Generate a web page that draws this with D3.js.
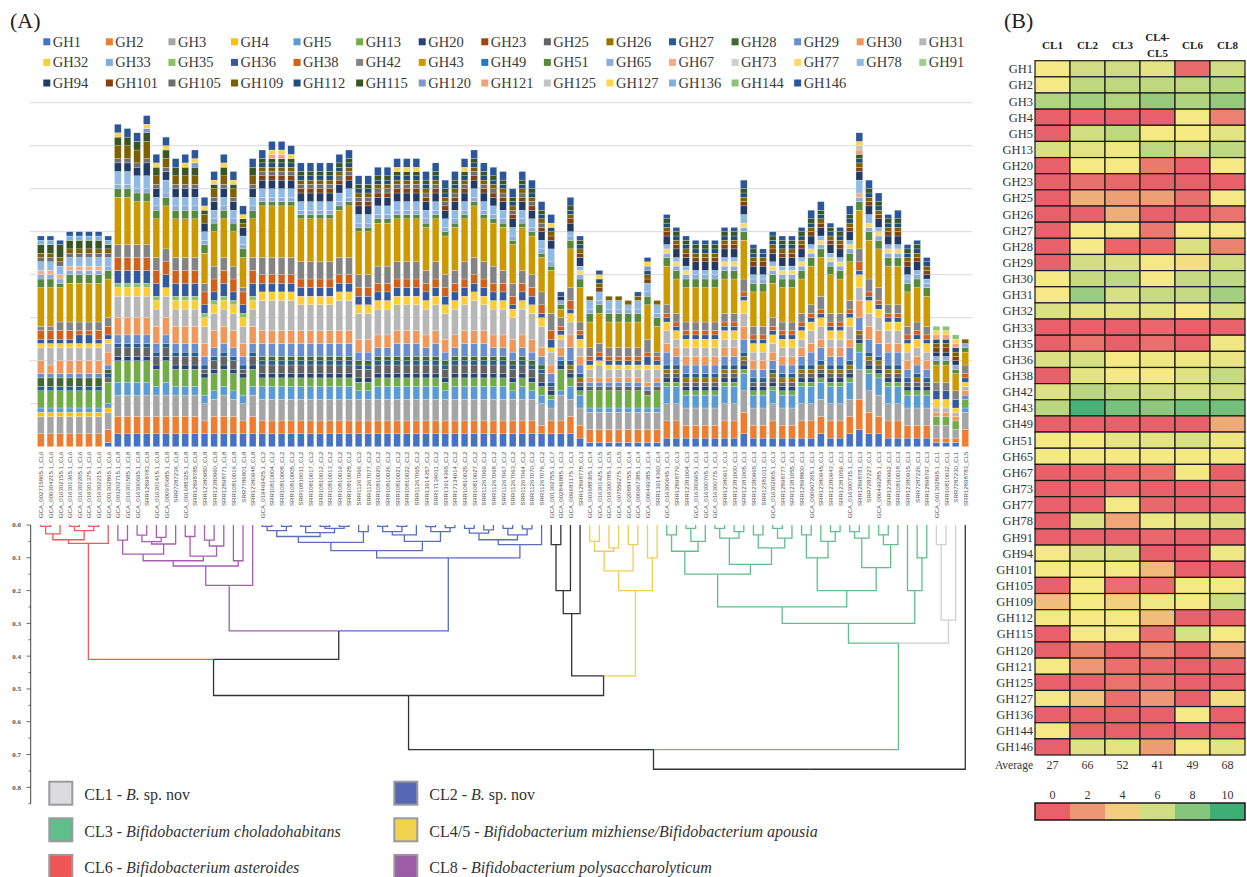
<!DOCTYPE html>
<html>
<head>
<meta charset="utf-8">
<script src="https://cdn.jsdelivr.net/npm/d3@7"></script>
<style>
  body { margin: 0; background: #fff; }
  svg { display: block; }
</style>
</head>
<body>
<svg id="fig" width="1247" height="877"></svg>
<script>
// ---------- data ----------
const families = ["GH1","GH2","GH3","GH4","GH5","GH13","GH20","GH23","GH25","GH26","GH27","GH28","GH29","GH30","GH31",
  "GH32","GH33","GH35","GH36","GH38","GH42","GH43","GH49","GH51","GH65","GH67","GH73","GH77","GH78","GH91",
  "GH94","GH101","GH105","GH109","GH112","GH115","GH120","GH121","GH125","GH127","GH136","GH144","GH146"];

const familyColors = ["#4472c4","#ed7d31","#a5a5a5","#ffc000","#5b9bd5","#70ad47","#264478","#9e480e","#636363","#997300","#255e91","#43682b","#698ed0","#f1975a","#b7b7b7",
  "#ffcd33","#7cafdd","#8cc168","#335aa1","#d0601a","#848484","#cc9a00","#2479c2","#548a3a","#8faadc","#f2ad84","#cfcfcf","#fbd96b","#8fbbe3","#9fcd8a",
  "#223a66","#84400f","#6f6f6f","#7f6000","#1f4e79","#375623","#7d97d3","#eea37a","#c4c4c4","#ffd34f","#7fb1de","#8cc27a","#2b579a"];

const genomes = ["GCA_002715865.1_CL6","GCA_000304215.1_CL6","GCA_016302155.1_CL6","GCA_016301365.1_CL6","GCA_016302205.1_CL6","GCA_016301375.1_CL6","GCA_016302215.1_CL6","GCA_001302865.1_CL6",
  "GCA_003202715.1_CL8","GCA_016301585.1_CL8","GCA_016300695.1_CL8","SRR12898783_CL8","GCA_016301415.1_CL8","GCA_000970685.1_CL8","SRR7287236_CL8","GCA_001688325.1_CL8","SRR12898785_CL8","SRR12380950_CL8","SRR12380960_CL8","SRR12898771_CL8","SRR10810016_CL8","SRR7786801_CL8","SRR12380948_CL8",
  "GCA_019469425.1_CL2","SRR10810004_CL2","SRR10810008_CL2","SRR10810005_CL2","SRR10810011_CL2","SRR10810017_CL2","SRR10810012_CL2","SRR10810013_CL2","SRR10810019_CL2","SRR10810028_CL2","SRR11267066_CL2","SRR11267077_CL2","SRR10810020_CL2","SRR10810026_CL2","SRR10810021_CL2","SRR10810022_CL2","SRR11267065_CL2","SRR13914357_CL2","SRR17134011_CL2","SRR13914365_CL2","SRR17134014_CL2","SRR10810025_CL2","SRR10810027_CL2","SRR11267069_CL2","SRR11267068_CL2","SRR11267067_CL2","SRR11267063_CL2","SRR11267064_CL2","SRR11267070_CL2","SRR11267076_CL2",
  "GCA_001302755.1_CL7","GCA_002846885.1_CL3","GCA_009683175.1_CL3","SRR12898778_CL3",
  "GCA_003688305.1_CL4","GCA_016301425.1_CL5","GCA_016300785.1_CL5","GCA_007559275.1_CL5","GCA_020884755.1_CL4","GCA_000967385.1_CL4","GCA_000499385.1_CL4","SRR13914360_CL4",
  "GCA_016300645.1_CL3","SRR12898779_CL3","SRR12381004_CL3","GCA_016300665.1_CL3","GCA_016300765.1_CL3","GCA_016300775.1_CL3","SRR12380917_CL3","SRR12381000_CL3","SRR12381005_CL3","SRR12380965_CL3","SRR12381011_CL3","GCA_016302005.1_CL3","SRR12898777_CL3","SRR12381055_CL3","SRR12898800_CL3","GCA_000967265.1_CL3","SRR12380945_CL3","SRR12380943_CL3","SRR12381056_CL3","GCA_016300735.1_CL3","SRR12898781_CL3","SRR7287227_CL3","GCA_000499285.1_CL3","SRR12380962_CL3","SRR10810018_CL3","SRR12380915_CL3","SRR7287226_CL3","SRR12898797_CL3",
  "GCA_001302895.1_CL1","SRR10810032_CL1","SRR7287230_CL1","SRR12898783_CL5"];

// gene counts per genome, columns in the order of `families`
const cl6Counts = [
  [0,3,4,1,1,4, 0,0,0,0,1,2, 1,3,3,1,0,0, 1,2,1,9,0,2, 1,1,0,0,2,0, 0,0,1,1,0,2, 0,0,0,0,1,0, 1],
  [0,3,4,1,1,4, 0,0,0,0,1,2, 1,2,4,1,0,0, 1,2,1,9,0,2, 1,1,0,0,2,0, 0,0,1,1,0,2, 0,0,0,0,1,0, 1],
  [0,3,4,1,1,4, 0,0,0,0,1,2, 1,3,3,1,0,0, 1,2,2,8,0,1, 1,1,0,0,2,0, 0,0,1,1,0,3, 0,0,0,0,0,0, 1],
  [0,3,4,1,1,4, 0,0,0,0,1,2, 1,3,3,1,0,0, 1,2,2,9,0,2, 1,1,0,0,2,0, 0,0,1,1,0,2, 0,0,0,0,1,0, 1],
  [0,3,4,1,1,4, 0,0,0,0,1,2, 1,3,3,1,0,0, 2,1,2,9,0,2, 1,1,0,0,2,0, 0,0,1,1,0,2, 0,0,0,0,1,0, 1],
  [0,3,4,1,1,4, 0,0,0,0,1,2, 1,3,3,1,0,0, 2,1,2,9,0,2, 1,1,0,0,2,0, 0,0,1,1,0,2, 0,0,0,0,1,0, 1],
  [0,3,4,1,1,4, 0,0,0,0,1,2, 1,3,3,1,0,0, 1,2,2,9,0,2, 1,1,0,0,2,0, 0,0,1,1,0,2, 0,0,0,0,1,0, 1],
  [1,3,4,1,1,5, 0,0,1,0,1,1, 1,3,2,1,0,0, 1,2,2,9,0,2, 1,0,0,0,2,0, 0,0,1,1,0,1, 0,0,0,0,1,0, 1]
];
const cl8Counts = [
  [3,4,5,0,3,5, 1,0,2,0,1,0, 2,4,5,2,0,1, 3,3,3,11,0,2, 1,0,0,0,3,0, 2,0,1,3,0,2, 0,0,0,1,0,0, 2],
  [3,4,5,0,3,5, 1,0,2,0,1,0, 2,4,5,2,0,1, 3,3,3,11,0,2, 1,0,0,0,3,0, 2,0,1,3,0,2, 0,0,0,0,0,0, 2],
  [3,4,5,0,3,5, 1,0,2,0,1,0, 2,4,5,2,0,1, 3,3,3,10,0,2, 1,0,0,0,3,0, 2,0,1,3,0,2, 0,0,0,0,0,0, 2],
  [3,4,5,0,3,5, 1,0,2,0,1,0, 2,4,5,2,0,1, 3,3,3,10,0,2, 1,0,0,0,3,0, 3,0,1,4,0,2, 1,0,0,1,0,0, 2],
  [3,4,5,0,2,4, 1,0,2,0,1,0, 2,4,4,2,0,1, 3,3,3,9,0,2, 1,0,0,0,2,0, 2,0,1,2,0,2, 0,0,0,1,0,0, 2],
  [3,4,5,0,3,5, 1,0,2,0,1,0, 2,4,5,2,0,0, 3,3,3,10,0,2, 1,0,0,0,3,0, 2,0,1,2,0,2, 0,0,0,1,0,0, 2],
  [3,4,5,0,2,4, 1,0,2,0,1,0, 2,4,4,2,0,1, 3,3,3,9,0,2, 1,0,0,0,2,0, 2,0,1,2,0,2, 0,0,0,0,0,0, 2],
  [3,4,5,0,2,4, 1,0,2,0,1,0, 2,4,4,2,0,1, 3,3,3,9,0,2, 1,0,0,0,2,0, 2,0,1,2,0,2, 0,0,0,1,0,0, 2],
  [3,4,5,0,2,4, 1,0,2,0,1,0, 2,4,4,2,0,1, 3,3,3,9,0,2, 1,0,0,0,2,0, 2,0,1,2,0,2, 1,0,0,1,0,0, 2],
  [3,3,4,0,2,4, 1,0,1,0,1,0, 2,3,4,2,0,1, 2,3,2,7,0,2, 1,0,0,0,2,0, 2,0,0,2,0,1, 0,0,0,1,0,0, 2],
  [3,4,4,0,2,4, 1,0,2,0,1,0, 2,4,4,2,0,1, 2,3,3,8,0,2, 1,0,0,0,2,0, 2,0,1,2,0,1, 0,0,0,1,0,0, 2],
  [3,4,5,0,2,4, 1,0,2,0,1,0, 2,4,4,2,0,1, 3,3,3,9,0,2, 1,0,0,0,2,0, 2,0,1,2,0,2, 0,0,0,1,0,0, 2],
  [3,4,4,0,2,4, 1,0,2,0,1,0, 2,4,4,2,0,1, 2,3,3,8,0,2, 1,0,0,0,2,0, 2,0,1,2,0,1, 0,0,0,1,0,0, 2],
  [3,3,4,0,2,4, 1,0,1,0,1,0, 2,3,4,2,0,1, 2,3,1,7,0,2, 1,0,0,0,2,0, 2,0,0,1,0,1, 0,0,0,1,0,0, 2],
  [3,4,5,0,2,4, 1,0,2,0,1,0, 2,4,4,2,0,1, 3,3,3,9,0,2, 1,0,0,0,2,0, 2,0,1,2,0,2, 0,0,0,0,0,0, 2]
];
const cl2Counts = [
  [3,3,5,0,3,2, 1,0,2,0,1,1, 3,3,7,2,0,0, 2,2,4,12,0,1, 1,0,0,0,2,0, 2,1,1,1,1,1, 0,0,0,0,0,0, 2],
  [3,3,5,0,3,2, 1,0,2,0,1,1, 3,3,7,2,0,0, 2,2,4,12,0,1, 1,0,0,0,2,0, 2,1,1,1,1,1, 0,1,0,1,0,0, 2],
  [3,3,5,0,3,2, 1,0,2,0,1,1, 3,3,7,2,0,0, 2,2,4,12,0,1, 1,0,0,0,2,0, 2,1,1,1,1,1, 0,1,0,1,0,0, 2],
  [3,3,5,0,3,2, 1,0,2,0,1,1, 3,3,7,2,0,0, 2,2,4,12,0,1, 1,0,0,0,2,0, 2,1,1,1,1,1, 0,0,0,1,0,0, 2],
  [3,3,5,0,3,2, 1,0,2,0,1,1, 3,3,6,2,0,0, 2,2,4,10,0,1, 1,0,0,0,2,0, 2,1,1,1,1,1, 0,0,0,0,0,0, 2],
  [3,3,5,0,3,2, 1,0,2,0,1,1, 3,3,6,2,0,0, 2,2,4,10,0,1, 1,0,0,0,2,0, 2,1,1,1,1,1, 0,0,0,0,0,0, 2],
  [3,3,5,0,3,2, 1,0,2,0,1,1, 3,3,6,2,0,0, 2,2,4,10,0,1, 1,0,0,0,2,0, 2,1,1,1,1,1, 0,0,0,0,0,0, 2],
  [3,3,5,0,3,2, 1,0,2,0,1,1, 3,3,6,2,0,0, 2,2,4,10,0,1, 1,0,0,0,2,0, 2,1,1,1,1,1, 0,0,0,0,0,0, 2],
  [3,3,5,0,3,2, 1,0,2,0,1,1, 3,3,7,2,0,0, 2,2,4,11,0,1, 1,0,0,0,2,0, 2,1,1,1,1,1, 0,0,0,0,0,0, 2],
  [3,3,5,0,3,2, 1,0,2,0,1,1, 3,3,7,2,0,0, 2,2,4,12,0,1, 1,0,0,0,2,0, 2,1,1,1,1,1, 0,0,0,0,0,0, 2],
  [3,3,5,0,2,2, 1,0,2,0,1,1, 2,3,6,2,0,0, 2,2,3,10,0,1, 1,0,0,0,2,0, 2,1,1,1,1,1, 0,0,0,0,0,0, 2],
  [3,3,5,0,2,2, 1,0,2,0,1,1, 2,3,6,2,0,0, 2,2,3,10,0,1, 1,0,0,0,2,0, 2,1,1,1,1,1, 0,0,0,0,0,0, 2],
  [3,3,5,0,3,2, 1,0,2,0,1,1, 2,3,6,2,0,0, 2,2,4,10,0,1, 1,0,0,0,2,0, 2,1,1,1,1,1, 0,0,0,0,0,0, 2],
  [3,3,5,0,3,2, 1,0,2,0,1,1, 2,3,6,2,0,0, 2,2,4,10,0,1, 1,0,0,0,2,0, 2,1,1,1,1,1, 0,0,0,0,0,0, 2],
  [3,3,5,0,3,2, 1,0,2,0,1,1, 3,3,6,2,0,0, 2,2,4,10,0,1, 1,0,0,0,2,0, 2,1,1,1,1,1, 0,0,0,1,0,0, 2],
  [3,3,5,0,3,2, 1,0,2,0,1,1, 3,3,6,2,0,0, 2,2,4,10,0,1, 1,0,0,0,2,0, 2,1,1,1,1,1, 0,0,0,1,0,0, 2],
  [3,3,5,0,3,2, 1,0,2,0,1,1, 3,3,6,2,0,0, 2,2,4,10,0,1, 1,0,0,0,2,0, 2,1,1,1,1,1, 0,0,0,1,0,0, 2],
  [3,3,5,0,3,2, 1,0,2,0,1,1, 2,3,6,2,0,0, 2,2,3,10,0,1, 1,0,0,0,2,0, 2,1,1,1,1,1, 0,0,0,0,0,0, 2],
  [3,3,5,0,3,2, 1,0,2,0,1,1, 3,3,6,2,0,0, 2,2,4,10,0,1, 1,0,0,0,2,0, 2,1,1,1,1,1, 0,0,0,0,0,0, 2],
  [3,3,5,0,2,2, 1,0,2,0,1,1, 2,3,6,2,0,0, 2,2,3,9,0,1, 1,0,0,0,2,0, 2,1,1,1,1,1, 0,0,0,0,0,0, 2],
  [3,3,5,0,3,2, 1,0,2,0,1,1, 2,3,6,2,0,0, 2,2,3,10,0,1, 1,0,0,0,2,0, 2,1,1,1,1,1, 0,0,0,0,0,0, 2],
  [3,3,5,0,3,2, 1,0,2,0,1,1, 3,3,6,2,0,0, 2,2,4,10,0,1, 1,0,0,0,2,0, 2,1,1,1,1,1, 0,0,0,1,0,0, 2],
  [3,3,5,0,3,2, 1,0,2,0,1,1, 3,3,7,2,0,0, 2,2,4,12,0,1, 1,0,0,0,2,0, 2,1,1,1,1,1, 0,0,0,0,0,0, 2],
  [3,3,5,0,3,2, 1,0,2,0,1,1, 3,3,6,2,0,0, 2,2,4,10,0,1, 1,0,0,0,2,0, 2,1,1,1,1,1, 0,0,0,0,0,0, 2],
  [3,3,5,0,3,2, 1,0,2,0,1,1, 2,3,6,2,0,0, 2,2,4,10,0,1, 1,0,0,0,2,0, 2,1,1,1,1,1, 0,0,0,0,0,0, 2],
  [3,3,5,0,3,2, 1,0,2,0,1,1, 2,3,6,2,0,0, 2,2,3,10,0,1, 1,0,0,0,2,0, 2,1,1,1,1,1, 0,0,0,0,0,0, 2],
  [3,3,5,0,2,2, 1,0,2,0,1,1, 2,3,5,2,0,0, 1,2,3,9,0,1, 1,0,0,0,2,0, 2,1,1,1,1,1, 0,0,0,0,0,0, 2],
  [3,3,5,0,3,2, 1,0,2,0,1,1, 2,3,6,2,0,0, 2,2,3,10,0,1, 1,0,0,0,2,0, 2,1,1,1,1,1, 0,0,0,0,0,0, 2],
  [3,3,5,0,2,2, 1,0,2,0,1,1, 2,3,6,2,0,0, 2,2,3,9,0,1, 1,0,0,0,2,0, 2,1,1,1,1,1, 0,0,0,0,0,0, 2],
  [3,2,5,0,2,2, 1,0,2,0,1,1, 2,2,5,2,0,0, 1,2,3,8,0,1, 1,0,0,0,2,0, 2,1,1,1,1,1, 0,0,0,0,0,0, 2]
];
const midCounts = [   // CL7 and the three CL3 genomes next to it
  [3,3,3,0,2,1, 1,0,1,0,1,0, 2,2,3,1,0,0, 2,2,4,10,0,1, 1,0,0,0,3,0, 2,1,0,1,1,0, 0,0,0,1,0,0, 2],
  [3,3,6,0,1,5, 1,0,0,0,1,0, 1,2,2,1,0,0, 1,1,2,2,0,1, 1,0,0,0,0,0, 1,0,0,0,0,0, 0,0,0,0,0,0, 1],
  [3,4,4,0,3,2, 1,0,1,1,1,0, 3,3,3,2,0,0, 1,2,3,9,0,2, 1,0,0,0,1,0, 2,1,0,1,1,1, 0,0,0,0,0,0, 2],
  [2,3,4,0,3,1, 1,0,1,1,1,0, 2,2,2,2,0,0, 1,1,2,8,0,2, 1,0,0,1,1,0, 2,1,0,1,1,1, 0,0,0,0,0,0, 1]
];
const cl45Counts = [
  [1,3,4,0,1,4, 0,0,1,0,0,0, 1,1,2,1,0,0, 1,1,2,6,0,2, 1,0,0,0,2,0, 0,0,0,1,0,0, 0,0,0,0,0,0, 0],
  [1,3,4,0,1,4, 0,0,1,0,0,0, 1,1,3,1,0,0, 1,1,2,7,0,2, 1,0,0,0,2,0, 0,1,0,1,1,0, 0,0,0,1,0,0, 1],
  [1,3,4,0,1,4, 0,0,1,0,0,0, 1,1,2,1,0,0, 1,1,2,6,0,2, 1,0,0,0,2,0, 0,0,0,1,0,0, 0,0,0,0,0,0, 0],
  [1,3,4,0,1,4, 0,0,1,0,0,0, 1,1,2,1,0,0, 1,1,2,6,0,2, 1,0,0,0,2,0, 0,0,0,1,0,0, 0,0,0,0,0,0, 0],
  [1,3,4,0,1,4, 0,0,1,0,0,0, 1,1,2,1,0,0, 1,1,2,6,0,2, 1,0,0,0,1,0, 0,0,0,1,0,0, 0,0,0,0,0,0, 0],
  [1,3,4,0,1,4, 0,0,1,0,0,0, 1,1,2,1,0,0, 1,1,2,6,0,2, 1,0,0,0,2,0, 0,0,0,1,0,0, 0,0,0,0,0,0, 1],
  [1,3,4,0,1,3, 0,0,1,0,0,0, 1,1,3,1,0,0, 2,1,3,8,0,2, 1,0,0,0,2,0, 0,1,0,1,1,0, 1,0,0,1,0,0, 1],
  [1,3,4,0,1,4, 0,0,1,0,0,0, 1,1,2,1,0,0, 1,1,1,6,0,2, 1,0,0,0,2,0, 0,0,0,1,0,0, 0,0,0,0,0,0, 0]
];
const cl3Counts = [
  [2,4,4,0,4,1, 1,0,1,1,1,0, 3,2,3,2,0,0, 1,1,2,9,0,2, 1,0,0,1,1,0, 2,1,0,1,1,1, 0,0,0,0,0,0, 1],
  [2,4,4,0,4,1, 1,0,1,1,1,0, 2,2,2,2,0,0, 1,1,2,8,0,2, 1,0,0,1,1,0, 2,1,0,1,1,1, 0,0,0,0,0,0, 1],
  [2,3,4,0,3,1, 1,0,1,1,1,0, 2,2,2,2,0,0, 1,1,2,8,0,2, 1,0,0,1,1,0, 2,1,0,1,1,1, 0,0,0,0,0,0, 1],
  [2,3,4,0,3,1, 1,0,1,1,1,0, 2,2,2,2,0,0, 1,1,2,8,0,2, 1,0,0,0,1,0, 2,1,0,1,1,1, 0,0,0,0,0,0, 1],
  [2,3,4,0,3,1, 1,0,1,1,1,0, 2,2,2,2,0,0, 1,1,2,8,0,2, 1,0,0,0,1,0, 2,1,0,1,1,1, 0,0,0,0,0,0, 1],
  [2,3,4,0,3,1, 1,0,1,1,1,0, 2,2,2,2,0,0, 1,1,2,8,0,2, 1,0,0,0,1,0, 2,1,0,1,1,1, 0,0,0,0,0,0, 1],
  [2,4,4,0,4,1, 1,0,1,1,1,0, 2,2,2,2,0,0, 1,1,2,8,0,2, 1,0,0,1,1,0, 2,1,0,1,1,1, 0,0,0,0,0,0, 1],
  [2,4,4,0,4,1, 1,0,1,1,1,0, 2,2,2,2,0,0, 1,1,2,8,0,2, 1,0,0,1,1,0, 2,1,0,1,1,1, 0,0,0,0,0,0, 1],
  [3,5,5,0,4,1, 1,0,1,1,1,0, 3,3,3,3,0,0, 1,1,3,9,0,2, 1,0,0,1,2,0, 2,1,0,1,1,1, 0,0,0,0,0,0, 2],
  [2,3,4,0,3,1, 1,0,1,0,1,0, 2,2,2,2,0,0, 1,1,2,8,0,2, 1,0,0,0,1,0, 2,1,0,1,1,1, 0,0,0,0,0,0, 1],
  [2,3,4,0,3,1, 1,0,1,0,1,0, 2,2,2,2,0,0, 1,1,2,8,0,2, 1,0,0,0,1,0, 2,1,0,1,1,0, 0,0,0,0,0,0, 1],
  [2,4,4,0,3,1, 1,0,1,1,1,0, 2,2,2,2,0,0, 1,1,2,8,0,2, 1,0,0,1,1,0, 2,1,0,1,1,1, 0,0,0,0,0,0, 1],
  [2,3,4,0,3,1, 1,0,1,1,1,0, 2,2,2,2,0,0, 1,1,2,8,0,2, 1,0,0,1,1,0, 2,1,0,1,1,1, 0,0,0,0,0,0, 1],
  [2,3,4,0,3,1, 1,0,1,1,1,0, 2,2,2,2,0,0, 1,1,2,8,0,2, 1,0,0,1,1,0, 2,1,0,1,1,1, 0,0,0,0,0,0, 1],
  [2,4,4,0,4,1, 1,0,1,1,1,0, 2,2,2,2,0,0, 1,1,2,8,0,2, 1,0,0,1,1,0, 2,1,0,1,1,1, 0,0,0,0,0,0, 1],
  [2,4,4,0,4,1, 1,0,1,1,1,0, 3,2,3,2,0,0, 1,1,2,9,0,2, 1,0,0,1,1,0, 2,1,0,1,1,1, 0,0,0,0,0,0, 2],
  [3,4,4,0,4,1, 1,0,1,1,1,0, 3,2,3,2,0,0, 1,1,3,9,0,2, 1,0,0,1,1,0, 2,1,0,1,1,1, 0,0,0,0,0,0, 2],
  [2,4,4,0,4,1, 1,0,1,1,1,0, 2,2,2,2,0,0, 1,1,2,9,0,2, 1,0,0,1,1,0, 2,1,0,1,1,1, 0,0,0,0,0,0, 1],
  [2,4,4,0,4,1, 1,0,1,1,1,0, 2,2,2,2,0,0, 1,1,2,8,0,2, 1,0,0,1,1,0, 2,1,0,1,1,1, 0,0,0,0,0,0, 1],
  [3,4,4,0,4,1, 1,0,1,1,1,0, 3,2,3,2,0,0, 1,1,2,9,0,2, 1,0,0,1,1,0, 2,1,0,1,1,1, 0,0,0,0,0,0, 2],
  [4,7,7,0,4,2, 1,0,1,1,0,0, 3,4,3,3,0,0, 1,2,3,9,0,2, 1,1,0,0,3,0, 2,1,0,1,1,1, 0,1,1,1,0,0, 2],
  [3,5,5,0,4,1, 1,0,1,1,1,0, 3,3,3,3,0,0, 1,1,3,9,0,2, 1,0,0,1,2,0, 2,1,0,1,1,1, 0,0,0,0,0,0, 2],
  [3,4,5,0,4,1, 1,0,1,1,1,0, 3,3,3,2,0,0, 1,1,3,9,0,2, 1,0,0,1,1,0, 2,1,0,1,1,1, 0,0,0,0,0,0, 2],
  [2,4,4,0,4,1, 1,0,1,1,1,0, 3,2,3,2,0,0, 1,1,2,9,0,2, 1,0,0,1,1,0, 2,1,0,1,1,1, 0,0,0,0,0,0, 1],
  [2,4,4,0,4,1, 1,0,1,1,1,0, 3,2,3,2,0,0, 1,1,2,9,0,2, 1,0,0,1,1,0, 2,1,0,1,1,1, 0,0,0,0,0,0, 2],
  [2,3,4,0,3,1, 1,0,1,0,1,0, 2,2,2,2,0,0, 1,1,2,8,0,2, 1,0,0,0,1,0, 2,1,0,1,1,1, 0,0,0,0,0,0, 1],
  [2,3,4,0,3,1, 1,0,1,1,1,0, 2,2,2,2,0,0, 1,1,2,8,0,2, 1,0,0,0,1,0, 2,1,0,1,1,1, 0,0,0,0,0,0, 1],
  [2,3,4,0,3,1, 1,0,1,0,1,0, 2,2,2,2,0,0, 1,1,2,7,0,2, 1,0,0,0,1,0, 1,1,0,1,1,0, 0,0,0,0,0,0, 1]
];
const cl1Counts = [
  [1,1,3,0,0,2, 0,0,0,0,0,0, 0,1,1,2,0,0, 2,0,2,4,0,1, 1,0,0,0,0,0, 1,1,0,1,1,0, 0,1,0,1,0,1, 0],
  [1,1,3,0,0,2, 0,0,0,0,0,0, 0,1,1,2,0,0, 2,0,2,4,0,1, 1,0,0,0,0,0, 1,1,0,1,1,0, 0,1,0,1,0,1, 0],
  [1,1,2,0,0,2, 0,0,0,0,0,0, 0,1,1,1,0,0, 2,0,2,4,0,1, 1,0,0,0,0,0, 1,1,0,1,1,0, 0,1,0,1,0,1, 0]
];
const lastCounts = [
  [0,4,4,0,1,2, 0,0,0,0,0,0, 1,1,1,1,0,0, 1,1,2,3,0,1, 1,0,0,0,0,0, 0,0,0,1,0,0, 0,0,0,0,0,0, 0]
];

// dendrogram: [merge height, left, right]; numbers are genome positions (1-based)
const cl6Tree = [0.056, [0.045, [0.027, [0.004, 1, 2], 3], [0.017, [0.004, 4, 5], [0.004, 6, 7]]], 8];
const cl8Tree = [0.184, [0.125, [0.109, [0.089, [0.046, 9, 10], [0.058, [0.051, [0.031, 11, 12], [0.038, 13, 14]], 15]],
  [0.095, [0.035, 16, 17], [0.064, [0.046, 18, 19], 20]]], [0.109, 21, 22]], 23];
const cl2Tree = [0.1,
  [0.078, [0.053, [0.035, [0.017, [0.004, 24, 25], [0.004, 26, 27]], [0.023, [0.004, 28, 29], [0.01, [0.004, 30, 31], [0.004, 32, 33]]]], [0.02, 34, 35]],
          [0.05, [0.03, [0.02, [0.004, 36, 37], [0.004, 38, 39]], 40], [0.02, [0.005, 41, 42], [0.008, 43, 44]]]],
  [0.06, [0.045, [0.025, [0.01, 45, 46], [0.015, 47, 48]], [0.03, [0.01, 49, 50], [0.012, 51, 52]]], 53]];
const otherTree = [0.27, [0.2, [0.06, 54, 55], 56], 57];
const cl45Tree = [0.2, [0.14, [0.08, [0.05, 58, 59], [0.07, 60, 61]], [0.06, 62, 63]], [0.1, 64, 65]];
const cl3Tree = [0.36,
  [0.3,
    [0.25,
      [0.15, [0.08, [0.03, 66, 67], [0.05, [0.01, 68, 69], 70]], [0.12, [0.04, [0.01, 71, 72], [0.02, 73, 74]], [0.07, [0.03, 75, 76], [0.04, [0.01, 77, 78], 79]]]],
      [0.2, [0.1, [0.03, 80, 81], [0.05, 82, [0.02, 83, 84]]], [0.13, [0.04, [0.02, 85, 86], 87], [0.06, [0.03, 88, 89], 90]]]],
    [0.2, 91, [0.1, 92, 93]]],
  "CL1"];
const cl1Tree = [0.29, [0.06, 94, 95], 96];
const topTree = [0.745, [0.685, [0.52, [0.41, "CL6", [0.323, "CL8", "CL2"]], [0.46, otherTree, "CL45"]], "CL3"], 97];
const denTicks = [0, 0.1, 0.2, 0.3, 0.4, 0.5, 0.6, 0.7, 0.8];

// heatmap (B)
const clusters = ["CL1","CL2","CL3","CL4-CL5","CL6","CL8"];
const heatValues = [
  [5,6,6,5.5,0.4,6],[5,6.5,6.5,6.5,6.5,6.7],[6.8,7.3,6.8,7.6,6.9,7.6],[0,0,0,0,5,1.2],[0,6,6.5,5,5,5.5],
  [5.8,5.5,5.2,6.5,6,6.5],[0,5,5,0.9,0,5],[0,0.6,0.3,0,0,0],[0,2.8,2.3,2.3,0.6,5],[0,0,2.8,0,0,0.7],
  [0,5,5,0.9,5,5],[0,5,0.2,0.3,5.7,1.2],[0,6,5.7,5,4.6,6],[5,6.3,6.5,5,6.3,6.5],[5,7.5,5.8,6.2,6.3,7.2],
  [5.7,5.5,5.5,5.5,5,5.7],[0,0,0,0.3,0,0.1],[0,0.7,0,0.5,0,5.2],[5.7,5.8,5,5.2,5.2,5.3],[0,5.5,5,5,5.6,6.3],
  [5.6,6.6,6.2,6,5.8,6],[6.6,9.7,8.4,7.8,8.5,8.5],[0,0,0,0,0,2.7],[5,5,5.4,5.5,5.8,5.2],[5,5,5,5,5,5],
  [0,0,0.3,0.6,5,0],[0,0,0.5,0,0,0.4],[0,0,5,0.3,0,0],[0,5.6,2.6,5.2,5.5,5.6],[0,0,0,0.3,0,0],
  [5,5.7,5.7,0,0,5.2],[5,5,5,3.3,0,0],[0,5,0.5,0.3,5,5],[3.4,5,4.1,5.2,5,6.1],[5,5,5,3.4,0,0],
  [0,5,5,0.6,5.8,5],[0,1.3,0,1.4,0,2.4],[5,2,0.6,0.3,0,0.1],[0,0,0.7,0.6,0,0],[5,3.7,0.6,2,0,4.6],
  [0,0,0,0,5,0],[5,0,0,0,0,0],[0,5.6,5.5,2.2,5,5.5]
];
const clusterAverages = [27, 66, 52, 41, 49, 68];
const scaleTicks = [0, 2, 4, 6, 8, 10];

// clade legend
const cladeNames = ["CL1","CL2","CL3","CL45","CL6","CL8"];
const cladeColors = ["#cfcfcf","#5b6bbf","#5fbf8c","#f0cd55","#ef5a5a","#a45db0"];
const cladeSwatch = ["#dcdcde","#5667b3","#61bd8a","#f2d250","#ee5656","#9c5ca8"];
const cladeLabels = [
  ["CL1 - ", "B.", " sp. nov"], ["CL2 - ", "B.", " sp. nov"],
  ["CL3 - ", "Bifidobacterium choladohabitans", ""], ["CL4/5 - ", "Bifidobacterium mizhiense/Bifidobacterium apousia", ""],
  ["CL6 - ", "Bifidobacterium asteroides", ""], ["CL8 - ", "Bifidobacterium polysaccharolyticum", ""]
];

// ---------- drawing ----------
const svg = d3.select("#fig");
const serif = "'Liberation Serif','DejaVu Serif',serif";
const sans = "'Liberation Sans',Arial,sans-serif";

svg.append("text").attr("x", 10).attr("y", 28).attr("font-family", serif).attr("font-size", 22).attr("fill", "#222").text("(A)");
svg.append("text").attr("x", 1004).attr("y", 28).attr("font-family", serif).attr("font-size", 22).attr("fill", "#222").text("(B)");

// GH legend
const legend = svg.append("g");
families.forEach((f, i) => {
  const col = i % 15, row = Math.floor(i / 15);
  const lx = 43.3 + col * 62.57, ly = 38.3 + row * 20.6;
  legend.append("rect").attr("x", lx).attr("y", ly).attr("width", 7).attr("height", 7).attr("fill", familyColors[i]);
  legend.append("text").attr("x", lx + 9.5).attr("y", ly + 8.5)
    .attr("font-family", serif).attr("font-size", 14.5).attr("fill", "#3a3a3a").text(f);
});

// stacked bars
const rows = [].concat(cl6Counts, cl8Counts, cl2Counts, midCounts, cl45Counts, cl3Counts, cl1Counts, lastCounts);
const table = rows.map((r, i) => {
  const o = { idx: i };
  families.forEach((f, j) => o[f] = r[j]);
  return o;
});
const series = d3.stack().keys(families)(table);

const x = d3.scaleBand().domain(d3.range(genomes.length)).range([36, 970.1]).paddingInner(0.3).paddingOuter(0.15);
const y = d3.scaleLinear().domain([0, 80]).range([446.7, 102.7]);

svg.append("g").selectAll("line").data(y.ticks(8).filter(v => v > 0)).join("line")
  .attr("x1", 30).attr("x2", 972).attr("y1", d => y(d)).attr("y2", d => y(d))
  .attr("stroke", "#d9d9d9").attr("stroke-width", 1);

svg.append("g").selectAll("g").data(series).join("g")
  .attr("fill", (d, i) => familyColors[i])
  .selectAll("rect").data(d => d.filter(s => s[1] > s[0])).join("rect")
  .attr("x", d => x(d.data.idx))
  .attr("y", d => y(d[1]))
  .attr("width", x.bandwidth())
  .attr("height", d => y(d[0]) - y(d[1]))
  .attr("stroke", "#ffffff").attr("stroke-width", 0.35).attr("stroke-opacity", 0.7);

// genome labels
svg.append("g").selectAll("text").data(genomes).join("text")
  .attr("transform", (d, i) => `translate(${x(i) + x.bandwidth() / 2},451.5) rotate(-90)`)
  .attr("text-anchor", "end").attr("dominant-baseline", "central")
  .attr("font-family", sans).attr("font-size", 6.1).attr("fill", "#555").text(d => d);

// dendrogram
const yD = d3.scaleLinear().domain([0, 0.8]).range([525, 787.3]);
const cladeTrees = { CL6: cl6Tree, CL8: cl8Tree, CL2: cl2Tree, CL45: cl45Tree, CL3: cl3Tree, CL1: cl1Tree };
const denG = svg.append("g").attr("fill", "none").attr("stroke-width", 1.3);

function build(node, color) {
  if (typeof node === "string") return build(cladeTrees[node], cladeColors[cladeNames.indexOf(node)]);
  if (typeof node === "number") return { x: x(node - 1) + x.bandwidth() / 2, h: 0, color };
  const [h, a, b] = node;
  const ca = build(a, color), cb = build(b, color);
  const mx = (ca.x + cb.x) / 2;
  [ca, cb].forEach(c => {
    denG.append("path")
      .attr("d", `M${c.x},${yD(c.h)}V${yD(h)}H${mx}`)
      .attr("stroke", c.color);
  });
  return { x: mx, h, color };
}
build(topTree, "#333333");

// dendrogram axis
const axisG = svg.append("g");
axisG.append("line").attr("x1", 30.7).attr("x2", 30.7).attr("y1", yD(0)).attr("y2", yD(0.85)).attr("stroke", "#444").attr("stroke-width", 1);
d3.range(0, 0.851, 0.05).forEach((v, i) => {
  axisG.append("line").attr("x1", i % 2 === 0 ? 26.5 : 28.5).attr("x2", 30.7)
    .attr("y1", yD(v)).attr("y2", yD(v)).attr("stroke", "#444").attr("stroke-width", 0.8);
});
axisG.selectAll("text").data(denTicks).join("text")
  .attr("x", 21).attr("y", d => yD(d) + 2.4).attr("text-anchor", "end")
  .attr("font-family", serif).attr("font-size", 7).attr("font-weight", "bold").attr("fill", "#555")
  .text(d => d.toFixed(1));

// clade legend
const legOrder = [["CL1", 0], ["CL2", 1], ["CL3", 2], ["CL45", 3], ["CL6", 4], ["CL8", 5]];
legOrder.forEach(([name, k], i) => {
  const col = i % 2, row = Math.floor(i / 2);
  const lx = col === 0 ? 49.3 : 394.3, ly = 781.7 + row * 36.6;
  const ci = cladeNames.indexOf(name);
  svg.append("rect").attr("x", lx).attr("y", ly).attr("width", 23).attr("height", 23)
    .attr("fill", cladeSwatch[ci]).attr("stroke", "#9a9a9a").attr("stroke-width", 2);
  const t = svg.append("text").attr("x", lx + 35).attr("y", ly + 18.5)
    .attr("font-family", serif).attr("font-size", 16).attr("fill", "#333");
  const [a, b, c] = cladeLabels[k];
  t.append("tspan").text(a);
  t.append("tspan").attr("font-style", "italic").text(b);
  if (c) t.append("tspan").text(c);
});

// heatmap
const xH = d3.scaleBand().domain(clusters).range([1035, 1245]);
const yH = d3.scaleBand().domain(families).range([60.7, 755]);
const heatColor = d3.scaleLinear().domain([0, 5, 10]).range(["#e8606a", "#f5e985", "#3cae76"]);

const hm = svg.append("g");
heatValues.forEach((row, r) => {
  row.forEach((v, c) => {
    hm.append("rect").attr("x", xH(clusters[c])).attr("y", yH(families[r]))
      .attr("width", xH.bandwidth()).attr("height", yH.bandwidth())
      .attr("fill", heatColor(v)).attr("stroke", "#1a1a1a").attr("stroke-width", 1.2);
  });
});
hm.selectAll("text.row").data(families).join("text").attr("class", "row")
  .attr("x", 1033).attr("y", d => yH(d) + yH.bandwidth() / 2 + 4.5).attr("text-anchor", "end")
  .attr("font-family", serif).attr("font-size", 12.5).attr("fill", "#333").text(d => d);

clusters.forEach(c => {
  const cx = xH(c) + xH.bandwidth() / 2;
  const parts = c === "CL4-CL5" ? [["CL4-", 41], ["CL5", 57]] : [[c, 49]];
  parts.forEach(([txt, ty]) => {
    hm.append("text").attr("x", cx).attr("y", ty).attr("text-anchor", "middle")
      .attr("font-family", serif).attr("font-size", 11).attr("font-weight", "bold").attr("fill", "#222").text(txt);
  });
});

hm.append("text").attr("x", 1033).attr("y", 769).attr("text-anchor", "end")
  .attr("font-family", serif).attr("font-size", 11.5).attr("fill", "#333").text("Average");
clusterAverages.forEach((v, i) => {
  hm.append("text").attr("x", xH(clusters[i]) + xH.bandwidth() / 2).attr("y", 769).attr("text-anchor", "middle")
    .attr("font-family", serif).attr("font-size", 12).attr("fill", "#333").text(v);
});

// colour scale bar
const xS = d3.scaleBand().domain(scaleTicks).range([1035, 1245]);
scaleTicks.forEach(v => {
  hm.append("rect").attr("x", xS(v)).attr("y", 803).attr("width", xS.bandwidth()).attr("height", 17)
    .attr("fill", heatColor(v));
  hm.append("text").attr("x", xS(v) + xS.bandwidth() / 2).attr("y", 799).attr("text-anchor", "middle")
    .attr("font-family", serif).attr("font-size", 12).attr("fill", "#333").text(v);
});
hm.append("rect").attr("x", 1035).attr("y", 803).attr("width", 210).attr("height", 17)
  .attr("fill", "none").attr("stroke", "#1a1a1a").attr("stroke-width", 1.5);
</script>
</body>
</html>
